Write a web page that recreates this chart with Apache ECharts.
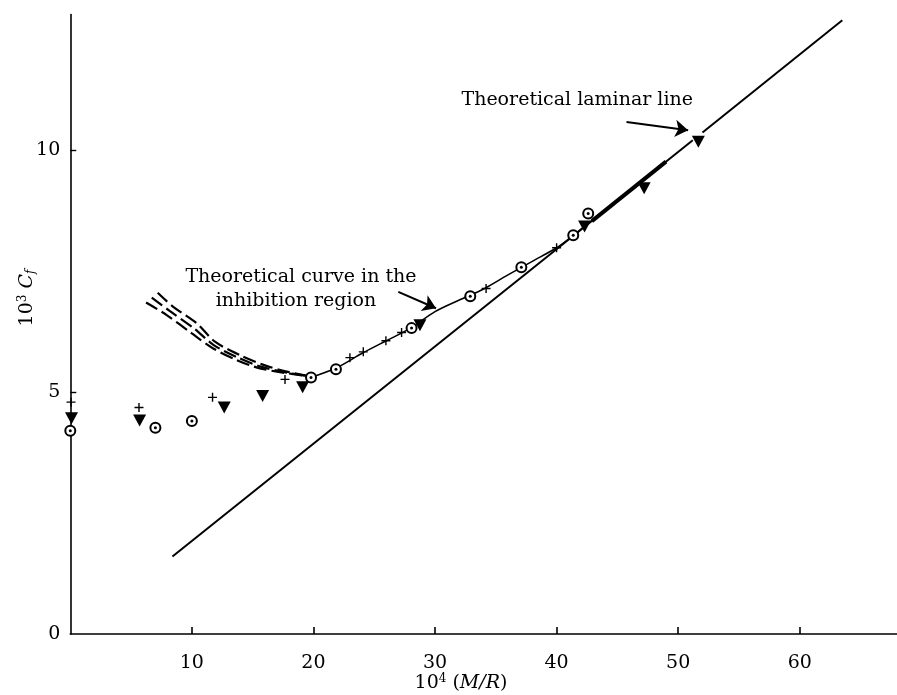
<!DOCTYPE html>
<html><head><meta charset="utf-8">
<script src="https://cdn.jsdelivr.net/npm/echarts@6.0.0/dist/echarts.min.js"></script>
<style>html,body{margin:0;padding:0;background:#fff}#c{width:897px;height:695px}</style>
</head><body><div id="c"></div>
<script>
// ---- data ----
const xTicks = [10, 20, 30, 40, 50, 60];
const yTicks = [0, 5, 10];

const circleX = [0, 7.0, 10.0, 19.8, 21.85, 28.07, 32.9, 37.1, 41.37, 42.6];
const circleY = [4.20, 4.26, 4.40, 5.30, 5.47, 6.32, 6.98, 7.58, 8.24, 8.69];

const triX = [0.1, 5.7, 12.66, 15.82, 19.11, 28.76, 42.3, 47.2, 51.66];
const triY = [4.46, 4.41, 4.68, 4.92, 5.10, 6.38, 8.42, 9.21, 10.17];

const plusX = [0.06, 5.65, 11.7, 17.66, 23.0, 24.1, 25.96, 27.25, 34.2, 40.0];
const plusY = [4.79, 4.68, 4.89, 5.26, 5.71, 5.83, 6.06, 6.23, 7.14, 7.98];

// theoretical laminar line (two pieces, gap where the arrow points)
const laminarLowX = [8.4, 51.2];
const laminarLowY = [1.6, 10.20];
const laminarHighX = [52.0, 63.5];
const laminarHighY = [10.36, 12.68];
// heavy stretch on the laminar line
const heavyX = [42.9, 49.0];
const heavyY = [8.53, 9.76];

// theoretical curve in the inhibition region
const curveX = [19.8, 21.9, 24.0, 26.0, 28.0, 30.0, 32.0, 34.0, 36.0, 38.0, 40.0, 41.4, 42.3];
const curveY = [5.30, 5.50, 5.80, 6.06, 6.32, 6.66, 6.90, 7.13, 7.42, 7.70, 7.98, 8.24, 8.42];

// three dashed theoretical curves
const dashUpX = [7.19, 8.47, 10.4, 11.9, 13.96, 15.9, 17.8, 19.8];
const dashUpY = [7.05, 6.76, 6.42, 6.04, 5.76, 5.56, 5.42, 5.32];
const dashMidX = [6.7, 8.2, 10.2, 11.8, 13.8, 15.6, 17.4, 19.8];
const dashMidY = [6.95, 6.67, 6.31, 5.97, 5.71, 5.53, 5.42, 5.32];
const dashLowX = [6.23, 7.93, 10.0, 11.76, 13.68, 15.3, 17.0, 19.8];
const dashLowY = [6.85, 6.59, 6.21, 5.90, 5.66, 5.51, 5.42, 5.32];

// annotation arrows (tail -> head), data coordinates
const arrowCurve = [[26.98, 7.07], [30.08, 6.73]];
const arrowLaminar = [[45.75, 10.58], [50.82, 10.41]];

const zip = (xs, ys) => xs.map((x, i) => [x, ys[i]]);
const SERIF = '"DejaVu Serif", "Liberation Serif", serif';
const FS = 19;

const chart = echarts.init(document.getElementById('c'));
const lineBase = { type: 'line', symbol: 'none', silent: true, animation: false };

chart.setOption({
  backgroundColor: '#fff',
  animation: false,
  grid: { left: 70.3, right: 0, top: 14.5, bottom: 61 },
  xAxis: {
    type: 'value', min: 0, max: 68, interval: 10,
    axisLine: { show: true, onZero: false, lineStyle: { color: '#000', width: 1.6 } },
    axisTick: { show: true, inside: true, length: 7, customValues: xTicks, lineStyle: { color: '#000', width: 1.6 } },
    axisLabel: { customValues: xTicks, margin: 20, color: '#000', fontFamily: SERIF, fontSize: FS },
    splitLine: { show: false }
  },
  yAxis: {
    type: 'value', min: 0, max: 12.8, interval: 5,
    axisLine: { show: true, onZero: false, lineStyle: { color: '#000', width: 1.6 } },
    axisTick: { show: true, inside: true, length: 6, customValues: yTicks.filter(v => v > 0), lineStyle: { color: '#000', width: 1.4 } },
    axisLabel: { customValues: yTicks, margin: 10, color: '#000', fontFamily: SERIF, fontSize: FS },
    splitLine: { show: false }
  },
  series: [
    Object.assign({}, lineBase, {
      data: zip(laminarLowX, laminarLowY), lineStyle: { color: '#000', width: 2 },
      markLine: {
        silent: true, symbol: ['none', 'arrow'], symbolSize: 13, animation: false,
        label: { show: false }, lineStyle: { color: '#000', width: 2, type: 'solid' },
        emphasis: { disabled: true },
        data: [
          [{ coord: arrowCurve[0] }, { coord: arrowCurve[1] }],
          [{ coord: arrowLaminar[0] }, { coord: arrowLaminar[1] }]
        ]
      }
    }),
    Object.assign({}, lineBase, { data: zip(laminarHighX, laminarHighY), lineStyle: { color: '#000', width: 2 } }),
    Object.assign({}, lineBase, { data: zip(heavyX, heavyY), lineStyle: { color: '#000', width: 4 } }),
    Object.assign({}, lineBase, { data: zip(curveX, curveY), smooth: 0.3, lineStyle: { color: '#000', width: 1.6 } }),
    Object.assign({}, lineBase, { data: zip(dashUpX, dashUpY), smooth: 0.3, lineStyle: { color: '#000', width: 2.2, type: [13, 5] } }),
    Object.assign({}, lineBase, { data: zip(dashMidX, dashMidY), smooth: 0.3, lineStyle: { color: '#000', width: 2.2, type: [13, 5] } }),
    Object.assign({}, lineBase, { data: zip(dashLowX, dashLowY), smooth: 0.3, lineStyle: { color: '#000', width: 2.2, type: [13, 5] } }),
    {
      type: 'scatter', silent: true, z: 5, data: zip(circleX, circleY), symbol: 'circle', symbolSize: 10,
      itemStyle: { color: '#fff', borderColor: '#000', borderWidth: 2, opacity: 1 }
    },
    {
      type: 'scatter', silent: true, z: 6, data: zip(circleX, circleY), symbol: 'circle', symbolSize: 3,
      itemStyle: { color: '#000', opacity: 1 }
    },
    {
      type: 'scatter', silent: true, z: 5, data: zip(triX, triY), symbol: 'triangle', symbolRotate: 180, symbolSize: [13, 12],
      itemStyle: { color: '#000', opacity: 1 }
    },
    {
      type: 'scatter', silent: true, z: 5, data: zip(plusX, plusY), symbol: 'path://M0,5L10,5M5,0L5,10', symbolSize: 9,
      itemStyle: { color: 'none', borderColor: '#000', borderWidth: 1.4, opacity: 1 }
    }
  ],
  graphic: [
    { type: 'text', x: 693, y: 100, style: { text: 'Theoretical laminar line', fill: '#000', font: FS + 'px ' + SERIF, align: 'right', verticalAlign: 'middle' } },
    { type: 'text', x: 301, y: 277, style: { text: 'Theoretical curve in the', fill: '#000', font: FS + 'px ' + SERIF, align: 'center', verticalAlign: 'middle' } },
    { type: 'text', x: 296, y: 301, style: { text: 'inhibition region', fill: '#000', font: FS + 'px ' + SERIF, align: 'center', verticalAlign: 'middle' } },
    {
      type: 'text', x: 461, y: 683,
      style: {
        text: '{n|10}{s|4}{n| (}{i|M/R}{n|)}', align: 'center', verticalAlign: 'middle',
        rich: {
          n: { fontFamily: SERIF, fontSize: FS, fill: '#000' },
          s: { fontFamily: SERIF, fontSize: 12, fill: '#000', padding: [0, 0, 8, 0] },
          i: { fontFamily: SERIF, fontSize: FS, fontStyle: 'italic', fill: '#000' }
        }
      }
    },
    {
      type: 'text', x: 27, y: 298, rotation: Math.PI / 2,
      style: {
        text: '{n|10}{s|3}{n| }{i|C}{f|f}', align: 'center', verticalAlign: 'middle',
        rich: {
          n: { fontFamily: SERIF, fontSize: FS, fill: '#000' },
          s: { fontFamily: SERIF, fontSize: 12, fill: '#000', padding: [0, 0, 8, 0] },
          i: { fontFamily: SERIF, fontSize: FS, fontStyle: 'italic', fill: '#000' },
          f: { fontFamily: SERIF, fontSize: 12, fontStyle: 'italic', fill: '#000', padding: [8, 0, 0, 0] }
        }
      }
    }
  ]
});
</script>
</body></html>
